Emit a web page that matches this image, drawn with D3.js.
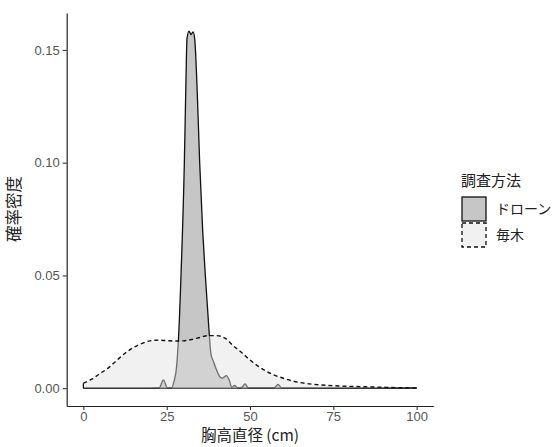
<!DOCTYPE html>
<html>
<head>
<meta charset="utf-8">
<script src="https://cdn.jsdelivr.net/npm/d3@7"></script>
<style>
  body { margin: 0; background: #fff; }
  text { font-family: "Noto Sans CJK JP", "Noto Sans", sans-serif; }
</style>
</head>
<body>
<svg id="chart" width="553" height="447"></svg>
<script>
// ドローン density (x in cm, density)
const droneX = [0, 20, 22.8, 24, 25.2, 26.5, 27.2, 28, 28.8, 29.3, 30.3, 30.7, 31.1, 31.7, 32.3, 32.9, 33.4, 34.2, 34.9, 35.8, 36.6, 37.5, 38.3, 39, 40, 41, 41.8, 42.9, 43.8, 44.5, 45.4, 46.3, 47.5, 48.5, 49.5, 57.3, 58.4, 59.5, 100];
const droneY = [0, 0, 0.0002, 0.0037, 0.0002, 0.0002, 0.003, 0.01, 0.03, 0.05, 0.10, 0.13, 0.155, 0.1584, 0.1568, 0.158, 0.155, 0.13, 0.10, 0.07, 0.05, 0.03, 0.015, 0.012, 0.008, 0.005, 0.0045, 0.0056, 0.0035, 0.0004, 0.0012, 0.0002, 0.0003, 0.0019, 0.0002, 0.0002, 0.0017, 0.0001, 0];

// 毎木 density
const treeX = [0, 2.5, 5, 7.5, 10, 12.5, 15, 17.5, 20, 22.5, 25, 27.5, 30, 32.5, 35, 37.5, 40, 42.5, 45, 47.5, 50, 52.5, 55, 57.5, 60, 62.5, 65, 70, 75, 80, 85, 90, 95, 100];
const treeY = [0.0022, 0.004, 0.0065, 0.009, 0.0123, 0.0155, 0.018, 0.0198, 0.0210, 0.0213, 0.0211, 0.0209, 0.0210, 0.0216, 0.0225, 0.0233, 0.0233, 0.0222, 0.0188, 0.0158, 0.0125, 0.0097, 0.0074, 0.0057, 0.0044, 0.0033, 0.0025, 0.0016, 0.0011, 0.0008, 0.0006, 0.0004, 0.0002, 0.0001];

const xTicks = [0, 25, 50, 75, 100];
const yTicks = [0, 0.05, 0.10, 0.15];
const methods = ["ドローン", "毎木"];

const svg = d3.select("#chart");
const x = d3.scaleLinear().domain([-5, 105]).range([66.7, 433.3]);
const y = d3.scaleLinear().domain([-0.0079, 0.1664]).range([406, 13]);

const drone = droneX.map((d, i) => [d, droneY[i]]);
const tree = treeX.map((d, i) => [d, treeY[i]]);

const area = d3.area().x(d => x(d[0])).y0(y(0)).y1(d => y(d[1])).curve(d3.curveMonotoneX);
const line = d3.line().x(d => x(d[0])).y(d => y(d[1])).curve(d3.curveMonotoneX);

// drone
svg.append("path").attr("d", area(drone)).attr("fill", "#c6c6c6");
svg.append("path").attr("d", line(drone)).attr("fill", "none").attr("stroke", "#111").attr("stroke-width", 1.3);
svg.append("line").attr("x1", x(0)).attr("x2", x(100)).attr("y1", y(0)).attr("y2", y(0))
  .attr("stroke", "#111").attr("stroke-width", 1.3);

// tree census
svg.append("path").attr("d", area(tree)).attr("fill", "#e0e0e0").attr("fill-opacity", 0.45);
svg.append("path").attr("d", line(tree)).attr("fill", "none").attr("stroke", "#111")
  .attr("stroke-width", 1.4).attr("stroke-dasharray", "4,3");
svg.append("line").attr("x1", x(0)).attr("x2", x(0)).attr("y1", y(0)).attr("y2", y(treeY[0]))
  .attr("stroke", "#111").attr("stroke-width", 1.3);

// axes
const xAxis = svg.append("g").attr("transform", "translate(0,406)")
  .call(d3.axisBottom(x).tickValues(xTicks).tickSize(4).tickPadding(2).tickSizeOuter(0));
const yAxis = svg.append("g").attr("transform", "translate(66.7,0)")
  .call(d3.axisLeft(y).tickValues(yTicks).tickFormat(d3.format(".2f")).tickSize(4).tickSizeOuter(0));
[xAxis, yAxis].forEach(a => {
  a.select(".domain").attr("stroke", "#222").attr("stroke-width", 1.2);
  a.selectAll(".tick line").attr("stroke", "#333").attr("stroke-width", 1.1);
  a.selectAll(".tick text").attr("fill", "#555").style("font-size", "13px")
    .style("font-family", "Liberation Sans, Arial, sans-serif");
});

svg.append("text").attr("x", x(50)).attr("y", 441).attr("text-anchor", "middle")
  .attr("fill", "#222").style("font-size", "15.5px").text("胸高直径 (cm)");
svg.append("text").attr("transform", "translate(20,209) rotate(-90)").attr("text-anchor", "middle")
  .attr("fill", "#222").style("font-size", "16.5px").text("確率密度");

// legend
const lg = svg.append("g").attr("transform", "translate(461,0)");
lg.append("text").attr("x", 0).attr("y", 186).attr("fill", "#222").style("font-size", "15px").text("調査方法");
const keys = lg.selectAll(".key").data(methods).enter().append("g")
  .attr("transform", (d, i) => `translate(0,${197 + i * 26})`);
keys.append("rect").attr("x", 1).attr("y", 0).attr("width", 24).attr("height", 24)
  .attr("fill", (d, i) => i === 0 ? "#c6c6c6" : "#f1f1f1")
  .attr("stroke", "#111").attr("stroke-width", 1.3)
  .attr("stroke-dasharray", (d, i) => i === 0 ? null : "4,3");
keys.append("text").attr("x", 35).attr("y", 17).attr("fill", "#222").style("font-size", "14px").text(d => d);
</script>
</body>
</html>
